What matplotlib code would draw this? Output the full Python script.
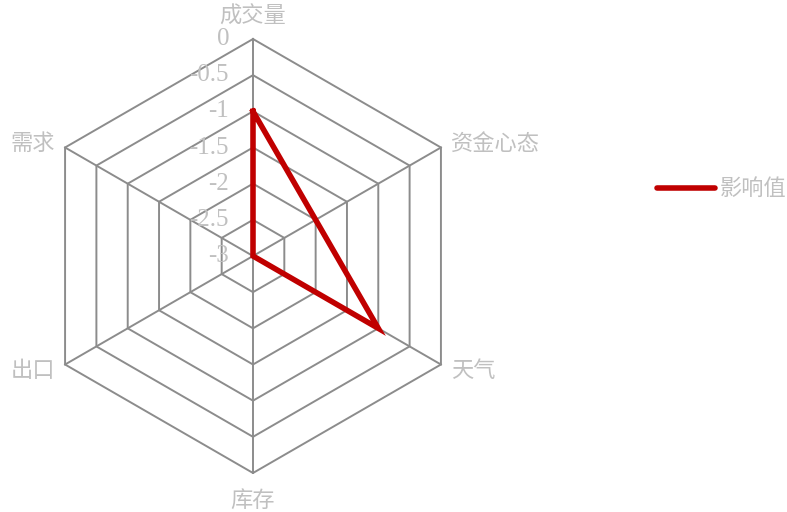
import numpy as np
import matplotlib.pyplot as plt

plt.rcParams['font.family'] = ['Liberation Serif', 'Noto Sans CJK SC', 'DejaVu Sans']

categories = ['成交量', '资金心态', '天气', '库存', '出口', '需求']
# 资金心态 has no value: the line goes straight from 成交量 to 天气
values = [-1, np.nan, -1, -3, -3, -3]
ticks = [0, -0.5, -1, -1.5, -2, -2.5, -3]
tick_labels = ['0', '-0.5', '-1', '-1.5', '-2', '-2.5', '-3']
vmin = -3

n = len(categories)
ang = np.pi / 2 - np.arange(n) * 2 * np.pi / n

def xy(r, a):
    return r * np.cos(a), r * np.sin(a)

fig = plt.figure(figsize=(7.87, 5.12), dpi=100)
ax = fig.add_axes([0, 0, 1, 1])
u = 217 / 3.0
ax.set_xlim(-253 / u, 534 / u)
ax.set_ylim(-256 / u, 256 / u)
ax.axis('off')

grid_c = '#8c8c8c'
text_c = '#c0c0c0'

# rings
for t in ticks[:-1]:
    r = t - vmin
    a = np.append(ang, ang[0])
    gx, gy = xy(r, a)
    ax.plot(gx, gy, color=grid_c, lw=1.4, zorder=1)
# spokes
for a in ang:
    sx, sy = xy(np.array([0, 3]), a)
    ax.plot(sx, sy, color=grid_c, lw=1.4, zorder=1)

# tick labels
for t, lab in zip(ticks, tick_labels):
    ax.text(-24 / u, t - vmin, lab, ha='right', va='center', fontsize=18,
            color=text_c, zorder=3)

# category labels
for c, a in zip(categories, ang):
    deg = np.degrees(a) % 360
    if abs(deg - 90) < 1:
        ax.text(0, 3 + 22 / u, c, ha='center', va='center', fontsize=16, color=text_c)
    elif abs(deg - 270) < 1:
        ax.text(0, -3 - 28 / u, c, ha='center', va='center', fontsize=16, color=text_c)
    else:
        px, py = xy(3.0, a)
        off = 3 / u if py > 0 else -7 / u
        if px > 0:
            ax.text(px + 10 / u, py + off, c, ha='left', va='center', fontsize=16, color=text_c)
        else:
            ax.text(px - 10 / u, py + off, c, ha='right', va='center', fontsize=16, color=text_c)

# data (skip the missing value, close the loop)
r = np.array(values) - vmin
ok = ~np.isnan(r)
rr = r[ok]
aa = ang[ok]
dx, dy = xy(np.append(rr, rr[0]), np.append(aa, aa[0]))
ax.plot(dx, dy, color='#c00000', lw=4, zorder=4, solid_joinstyle='miter',
        label='影响值')

leg = ax.legend(loc='center left', bbox_to_anchor=(0.81, 0.629), frameon=False,
                fontsize=16, handlelength=2.6, handletextpad=0.2)
for t in leg.get_texts():
    t.set_color(text_c)
for l in leg.get_lines():
    l.set_solid_capstyle('round')

fig.savefig('out.png', dpi=100)
